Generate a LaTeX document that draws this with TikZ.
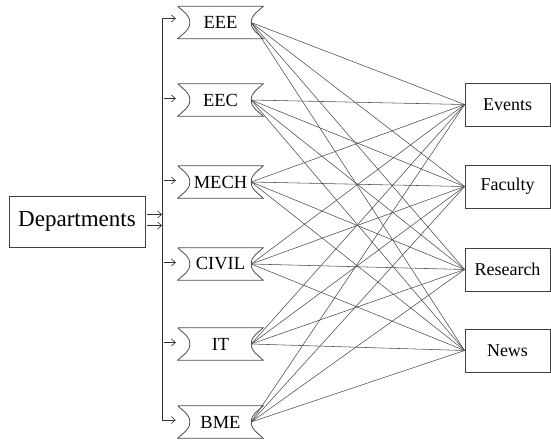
\documentclass[tikz,border=0pt]{standalone}
\usepackage{fontspec}
\setmainfont{Liberation Serif}
\usetikzlibrary{arrows.meta}

\tikzset{
  dept/.style={minimum width=85pt, minimum height=32pt, inner sep=0pt,
    font=\fontsize{18.5}{20}\selectfont},
  topic/.style={draw=black!75, line width=0.8pt, minimum width=85pt,
    minimum height=43pt, inner sep=0pt, font=\fontsize{18}{20}\selectfont},
  tape/.style={draw=black!70, line width=0.8pt},
  link/.style={draw=black!70, line width=0.55pt},
  feed/.style={-{Straight Barb[length=4pt,width=7pt]}, draw=black!80, line width=0.6pt}
}

\begin{document}
\begin{tikzpicture}[x=1pt, y=-1pt]
    \useasboundingbox (0,0) rectangle (551,439);

    % Nodes
    \node[draw=black!75, line width=0.8pt, minimum width=136pt, minimum height=51pt,
      inner sep=0pt, font=\fontsize{23}{26}\selectfont] (dept) at (77,221.5) {Departments};

    \node[dept] (EEE) at (220.5,22.5) {EEE};
    \node[dept] (EEC) at (220.5,100) {EEC};
    \node[dept] (MECH) at (220.5,182) {MECH};
    \node[dept] (CIVIL) at (220.5,264) {CIVIL};
    \node[dept] (IT) at (220.5,344) {IT};
    \node[dept] (BME) at (220.5,422) {BME};

    \node[topic] (events) at (507.5,104.5) {Events};
    \node[topic] (faculty) at (507.5,186.5) {Faculty};
    \node[topic] (research) at (507.5,269.5) {Research};
    \node[topic] (news) at (507.5,350.5) {News};

    \coordinate (bus-top) at (162,18.5);
    \coordinate (bus-bot) at (162,420);

    % tape outlines of the departments
    \foreach \d in {EEE,EEC,MECH,CIVIL,IT,BME} {
      \coordinate (\d-out) at ([xshift=-12pt]\d.east);
      \coordinate (\d-mid) at ([xshift=12pt]\d.west);
      \coordinate (\d-in) at ([xshift=-2pt,yshift=1.5pt]\d.west);
      \draw[tape] (\d.north west) -- (\d.north east)
        to[out=225, in=90] (\d-out) to[out=-90, in=135] (\d.south east)
        -- (\d.south west) to[out=45, in=-90] (\d-mid)
        to[out=90, in=-45] (\d.north west);
    }

    % Lines
    \foreach \d in {EEE,EEC,MECH,CIVIL,IT,BME}
      \foreach \t in {events,faculty,research,news}
        \draw[link] (\d-out) -- (\t.west);

    % bus from Departments
    \draw[feed] ([xshift=2pt,yshift=7pt]dept.east) -- ([yshift=7pt]dept.east -| bus-top);
    \draw[feed] ([xshift=2pt,yshift=-4pt]dept.east) -- ([yshift=-4pt]dept.east -| bus-top);
    \draw[draw=black!80, line width=0.6pt] (bus-top) -- (bus-bot);
    \draw[feed] (bus-top) -- (EEE-in |- bus-top);
    \draw[feed] (bus-bot) -- (BME-in |- bus-bot);
    \foreach \d in {EEC,MECH,CIVIL,IT}
      \draw[feed] ([xshift=-12pt]\d-in) -- (\d-in);

\end{tikzpicture}
\end{document}
